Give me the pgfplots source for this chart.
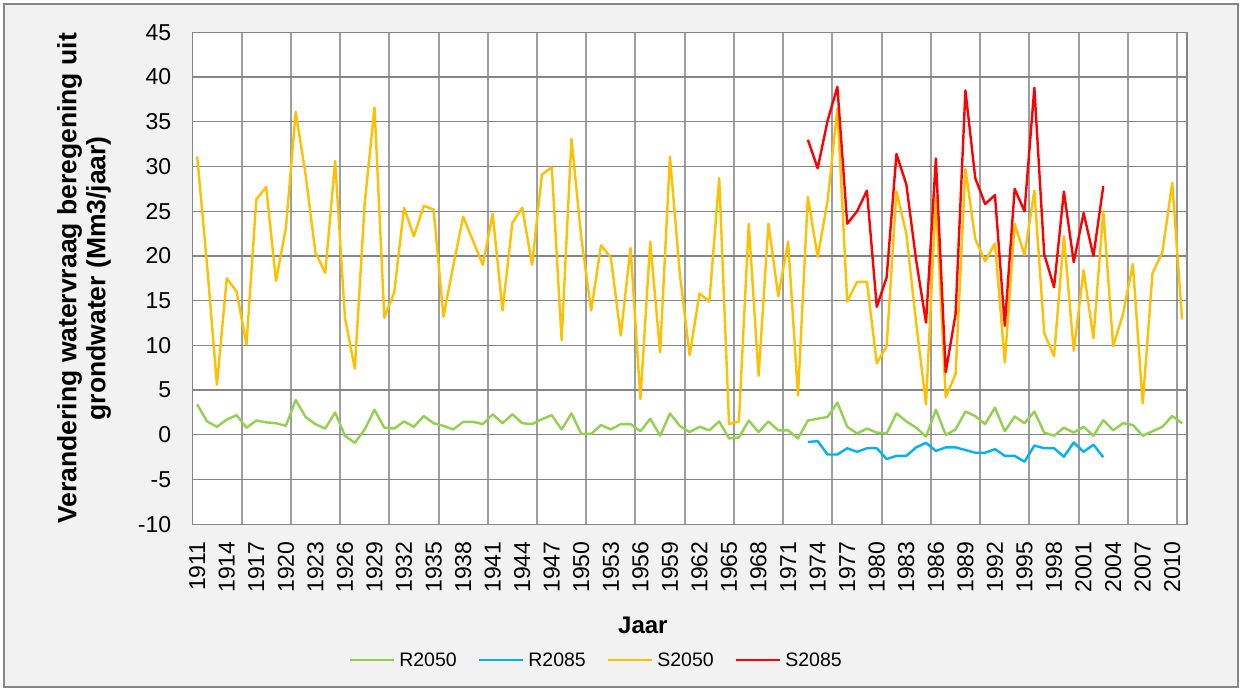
\documentclass[border=0pt]{standalone}
\usepackage{pgfplots}
\pgfplotsset{compat=1.18}
\usepackage{fontspec}
\setmainfont{Liberation Sans}
\definecolor{cR50}{RGB}{146,208,80}
\definecolor{cR85}{RGB}{0,176,240}
\definecolor{cS50}{RGB}{255,192,0}
\definecolor{cS85}{RGB}{255,0,0}
\definecolor{gridc}{RGB}{134,134,134}
\definecolor{bgc}{RGB}{242,242,242}
\begin{document}
\begin{tikzpicture}
\fill[white] (0,0) rectangle (1244pt,690pt);
\filldraw[fill=bgc, draw=gridc, line width=1.5pt] (4pt,3pt) rectangle (1238pt,686pt);
\useasboundingbox (0,0) rectangle (1244pt,690pt);
\begin{axis}[
  at={(192.3pt,165.7pt)}, anchor=south west,
  scale only axis, width=994.7pt, height=492pt,
  xmin=1910.5, xmax=2011.5, ymin=-10, ymax=45,
  xtick={1911,1914,...,2010},
  ytick={-10,-5,...,45},
  minor xtick={1915.5,1920.5,1925.5,1930.5,1935.5,1940.5,1945.5,1950.5,1955.5,1960.5,1965.5,1970.5,1975.5,1980.5,1985.5,1990.5,1995.5,2000.5,2005.5,2010.5},
  xminorgrids=true,
  xmajorgrids=false, ymajorgrids=true,
  major tick length=0pt, minor tick length=0pt,
  grid style={draw=gridc, line width=1.3pt},
  minor grid style={draw=gridc!80, line width=2pt},
  axis line style={draw=gridc, line width=1.3pt},
  axis background/.style={fill=white},
  /pgf/number format/assume math mode=true,
  /pgf/number format/1000 sep={},
  tick label style={font=\fontsize{23}{27}\selectfont, text=black},
  yticklabel style={anchor=east, inner sep=0pt, xshift=-21pt},
  xticklabel style={yshift=-17pt, rotate=90, anchor=east, inner sep=0pt},
  xlabel={Jaar},
  xlabel style={at={(axis description cs:0.453,-0.2047)}, anchor=center, font=\bfseries\fontsize{24}{28}\selectfont},
  ylabel={Verandering watervraag beregening uit\\grondwater (Mm3/jaar)},
  ylabel style={at={(axis description cs:-0.1088,0.5)}, anchor=center, align=center, font=\bfseries\fontsize{26.5}{29}\selectfont},
  legend columns=4,
  legend style={at={(axis description cs:0.157,-0.2758)}, anchor=west, draw=none, fill=none,
    font=\fontsize{19.5}{23}\selectfont, inner xsep=0pt,
    nodes={inner xsep=4pt},
    /tikz/every even column/.append style={column sep=17pt}},
  legend image code/.code={\draw[#1, line width=2.6pt] (0pt,0pt) -- (44pt,0pt);},
  every axis plot/.append style={line width=2.4pt, line join=round},
]
\addplot[cR50] coordinates {
(1911,3.4)(1912,1.5)(1913,0.9)(1914,1.7)(1915,2.2)(1916,0.8)(1917,1.6)(1918,1.4)(1919,1.3)(1920,1.0)
(1921,3.9)(1922,2.0)(1923,1.2)(1924,0.7)(1925,2.5)(1926,-0.1)(1927,-0.9)(1928,0.6)(1929,2.8)(1930,0.8)
(1931,0.7)(1932,1.5)(1933,0.9)(1934,2.1)(1935,1.3)(1936,1.0)(1937,0.6)(1938,1.45)(1939,1.45)(1940,1.2)
(1941,2.3)(1942,1.3)(1943,2.3)(1944,1.3)(1945,1.2)(1946,1.75)(1947,2.2)(1948,0.6)(1949,2.4)(1950,0.1)
(1951,0.1)(1952,1.1)(1953,0.6)(1954,1.2)(1955,1.2)(1956,0.4)(1957,1.8)(1958,-0.1)(1959,2.4)(1960,1.0)
(1961,0.3)(1962,0.9)(1963,0.5)(1964,1.5)(1965,-0.4)(1966,-0.3)(1967,1.6)(1968,0.3)(1969,1.5)(1970,0.5)
(1971,0.5)(1972,-0.4)(1973,1.6)(1974,1.8)(1975,2.0)(1976,3.6)(1977,0.9)(1978,0.15)(1979,0.7)(1980,0.25)
(1981,0.15)(1982,2.4)(1983,1.5)(1984,0.8)(1985,-0.2)(1986,2.8)(1987,0.0)(1988,0.6)(1989,2.6)(1990,2.1)
(1991,1.2)(1992,3.05)(1993,0.4)(1994,2.05)(1995,1.3)(1996,2.6)(1997,0.25)(1998,-0.1)(1999,0.8)(2000,0.25)
(2001,0.9)(2002,-0.1)(2003,1.65)(2004,0.5)(2005,1.3)(2006,1.1)(2007,-0.1)(2008,0.4)(2009,0.9)(2010,2.1)
(2011,1.3)};
\addlegendentry{R2050}
\addplot[cR85] coordinates {
(1973,-0.8)(1974,-0.7)(1975,-2.2)(1976,-2.2)(1977,-1.5)(1978,-1.9)(1979,-1.5)(1980,-1.5)(1981,-2.7)(1982,-2.35)
(1983,-2.35)(1984,-1.4)(1985,-0.9)(1986,-1.8)(1987,-1.4)(1988,-1.4)(1989,-1.7)(1990,-2.0)(1991,-2.0)(1992,-1.6)
(1993,-2.35)(1994,-2.35)(1995,-3.0)(1996,-1.2)(1997,-1.5)(1998,-1.5)(1999,-2.45)(2000,-0.85)(2001,-1.9)(2002,-1.1)
(2003,-2.5)};
\addlegendentry{R2085}
\addplot[cS50] coordinates {
(1911,31.1)(1912,19)(1913,5.6)(1914,17.5)(1915,16.0)(1916,10.1)(1917,26.3)(1918,27.7)(1919,17.2)(1920,23.1)
(1921,36.1)(1922,29.1)(1923,20.4)(1924,18.1)(1925,30.6)(1926,13.1)(1927,7.4)(1928,25.8)(1929,36.6)(1930,13.1)
(1931,15.9)(1932,25.4)(1933,22.2)(1934,25.6)(1935,25.2)(1936,13.2)(1937,18.9)(1938,24.4)(1939,21.7)(1940,19.0)
(1941,24.7)(1942,13.9)(1943,23.7)(1944,25.4)(1945,19.0)(1946,29.1)(1947,29.9)(1948,10.6)(1949,33.1)(1950,22)
(1951,13.9)(1952,21.2)(1953,19.8)(1954,11.1)(1955,20.9)(1956,4.0)(1957,21.6)(1958,9.2)(1959,31.1)(1960,18.0)
(1961,8.9)(1962,15.8)(1963,14.9)(1964,28.7)(1965,1.2)(1966,1.5)(1967,23.6)(1968,6.6)(1969,23.6)(1970,15.5)
(1971,21.6)(1972,4.4)(1973,26.6)(1974,19.9)(1975,26.1)(1976,36.5)(1977,14.9)(1978,17.1)(1979,17.1)(1980,8.0)
(1981,9.9)(1982,27.2)(1983,22.5)(1984,12.5)(1985,3.4)(1986,26.5)(1987,4.2)(1988,6.8)(1989,29.7)(1990,21.9)
(1991,19.4)(1992,21.4)(1993,8.1)(1994,23.6)(1995,20.1)(1996,27.3)(1997,11.4)(1998,8.8)(1999,22.2)(2000,9.4)
(2001,18.4)(2002,10.8)(2003,25.0)(2004,9.9)(2005,13.5)(2006,19.1)(2007,3.5)(2008,18.1)(2009,20.4)(2010,28.2)
(2011,12.9)};
\addlegendentry{S2050}
\addplot[cS85] coordinates {
(1973,33.0)(1974,29.8)(1975,35.1)(1976,38.9)(1977,23.6)(1978,25.0)(1979,27.3)(1980,14.3)(1981,17.6)(1982,31.4)
(1983,28.0)(1984,19.5)(1985,12.55)(1986,30.9)(1987,7.0)(1988,13.5)(1989,38.5)(1990,28.7)(1991,25.8)(1992,26.8)
(1993,12.2)(1994,27.5)(1995,25.0)(1996,38.8)(1997,20.2)(1998,16.5)(1999,27.2)(2000,19.3)(2001,24.8)(2002,20.0)
(2003,27.8)};
\addlegendentry{S2085}
\end{axis}
\end{tikzpicture}
\end{document}
